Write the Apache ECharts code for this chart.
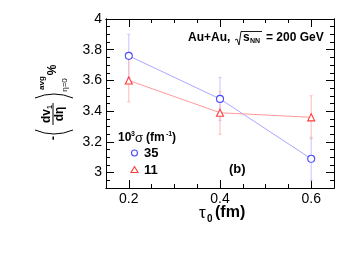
<!DOCTYPE html>
<html><head><meta charset="utf-8">
<script src="https://cdn.jsdelivr.net/npm/echarts@6/dist/echarts.min.js"></script>
<style>html,body{margin:0;padding:0;background:#fff}#c{width:347px;height:260px}</style>
</head><body><div id="c"></div>
<script>
const tau0 = [0.2, 0.4, 0.6];
const sigma35 = [3.76, 3.48, 3.09];
const sigma35Err = [0.14, 0.14, 0.14];
const sigma11 = [3.60, 3.39, 3.36];
const sigma11Err = [0.14, 0.14, 0.14];
const xTickLabels = [0.2, 0.4, 0.6];
const xMinorTicks = [0.15, 0.2, 0.25, 0.3, 0.35, 0.4, 0.45, 0.5, 0.55, 0.6, 0.65];
const yTickLabels = [3, 3.2, 3.4, 3.6, 3.8, 4];
const yMinorTicks = [2.9, 2.95, 3, 3.05, 3.1, 3.15, 3.2, 3.25, 3.3, 3.35, 3.4, 3.45, 3.5, 3.55, 3.6, 3.65, 3.7, 3.75, 3.8, 3.85, 3.9, 3.95, 4];
const legendNames = ['35', '11'];

const FF = '"Liberation Sans", Arial, Helvetica, sans-serif';
const BLUE = '#4b4bff', BLUE_L = '#a8a8ff', BLUE_E = '#c4c4ff';
const RED = '#ff3c3c', RED_L = '#ff9a9a', RED_E = '#ffb8b8';

const chart = echarts.init(document.getElementById('c'), null, {renderer: 'canvas'});

function xAx(pos, ticks, len, labels) {
  return {
    type: 'value', position: pos, min: 0.15, max: 0.65,
    axisLine: {show: true, onZero: false, lineStyle: {color: '#000', width: 1}},
    axisTick: {show: true, inside: true, length: len, customValues: ticks, lineStyle: {color: '#000', width: 1}},
    axisLabel: labels ? {show: true, customValues: xTickLabels, formatter: v => v.toFixed(1), color: '#000', fontSize: 14, fontFamily: FF, margin: 4} : {show: false},
    splitLine: {show: false}
  };
}
function yAx(pos, ticks, len, labels) {
  return {
    type: 'value', position: pos, min: 2.9, max: 4,
    axisLine: {show: true, onZero: false, lineStyle: {color: '#000', width: 1}},
    axisTick: {show: true, inside: true, length: len, customValues: ticks, lineStyle: {color: '#000', width: 1}},
    axisLabel: labels ? {show: true, customValues: yTickLabels, formatter: v => (Math.abs(v - Math.round(v)) < 1e-9 ? String(Math.round(v)) : v.toFixed(1)), color: '#000', fontSize: 14, fontFamily: FF, margin: 4} : {show: false},
    splitLine: {show: false}
  };
}

function errSeries(vals, errs, color) {
  return {
    type: 'custom', xAxisIndex: 0, yAxisIndex: 0, z: 1, silent: true,
    data: tau0.map((x, i) => [x, vals[i] - errs[i], vals[i] + errs[i]]),
    encode: {x: 0, y: [1, 2]},
    renderItem(params, api) {
      const lo = api.coord([api.value(0), api.value(1)]);
      const hi = api.coord([api.value(0), api.value(2)]);
      const st = {stroke: color, lineWidth: 1};
      return {type: 'group', children: [
        {type: 'line', shape: {x1: lo[0], y1: lo[1], x2: hi[0], y2: hi[1]}, style: st},
        {type: 'line', shape: {x1: lo[0] - 1.5, y1: lo[1], x2: lo[0] + 1.5, y2: lo[1]}, style: st},
        {type: 'line', shape: {x1: hi[0] - 1.5, y1: hi[1], x2: hi[0] + 1.5, y2: hi[1]}, style: st}
      ]};
    }
  };
}

function lineSeries(name, vals, sym, color, lcolor) {
  return {
    type: 'line', name: name, xAxisIndex: 0, yAxisIndex: 0, z: 3,
    data: tau0.map((x, i) => [x, vals[i]]),
    symbol: sym, symbolSize: 7, showSymbol: true,
    lineStyle: {color: lcolor, width: 1},
    itemStyle: {color: '#fff', borderColor: color, borderWidth: 1.1},
    emphasis: {disabled: true}, animation: false
  };
}

const T = (text, x, y, font, extra) => ({type: 'text', style: Object.assign({text, x, y, font, fill: '#000', align: 'left', verticalAlign: 'middle'}, extra || {})});

const ylabel = {
  type: 'group', x: 53, y: 138, rotation: Math.PI / 2,
  children: [
    {type: 'text', style: {text: '-', x: 0, y: 0, font: 'bold 13px ' + FF, fill: '#000', align: 'center', verticalAlign: 'middle'}},
    {type: 'bezierCurve', shape: {x1: 8, y1: -18, x2: 8, y2: 20, cpx1: 0, cpy1: 1}, style: {stroke: '#000', lineWidth: 1, fill: null}},
    {type: 'text', style: {text: 'dv', x: 15, y: -6, font: 'bold 12px ' + FF, fill: '#000', align: 'left', verticalAlign: 'middle'}},
    {type: 'text', style: {text: '1', x: 29, y: -3, font: 'bold 7px ' + FF, fill: '#000', align: 'left', verticalAlign: 'middle'}},
    {type: 'line', shape: {x1: 13, y1: 0, x2: 35, y2: 0}, style: {stroke: '#000', lineWidth: 1}},
    {type: 'text', style: {text: 'dη', x: 24, y: 7, font: 'bold 12px ' + FF, fill: '#000', align: 'center', verticalAlign: 'middle'}},
    {type: 'bezierCurve', shape: {x1: 40, y1: -18, x2: 40, y2: 20, cpx1: 48, cpy1: 1}, style: {stroke: '#000', lineWidth: 1, fill: null}},
    {type: 'text', style: {text: 'avg', x: 55, y: -11, font: 'bold 8px ' + FF, fill: '#000', align: 'center', verticalAlign: 'middle'}},
    {type: 'text', style: {text: 'η=0', x: 53, y: 12, font: '8px ' + FF, fill: '#000', align: 'center', verticalAlign: 'middle'}},
    {type: 'text', style: {text: '%', x: 68, y: 0, font: 'bold 12px ' + FF, fill: '#000', align: 'center', verticalAlign: 'middle'}}
  ]
};

const graphics = [
  ylabel,
  // x axis title
  T('τ', 199, 213, '17px ' + FF),
  T('0', 207, 219, 'bold 10px ' + FF),
  T('(fm)', 215, 213, 'bold 16px ' + FF),
  // energy annotation
  T('Au+Au,', 188, 38, 'bold 12px ' + FF),
  {type: 'polyline', shape: {points: [[235, 40], [237, 39], [239, 45], [241, 31.5], [262, 31.5]]}, style: {stroke: '#000', lineWidth: 0.9, fill: null}},
  T('s', 243, 38, 'bold 12px ' + FF),
  T('NN', 250, 41, 'bold 7px ' + FF),
  T('= 200 GeV', 266, 38, 'bold 12px ' + FF),
  // legend header
  T('10', 118, 138, 'bold 12px ' + FF),
  T('3', 131, 134, 'bold 7px ' + FF),
  T('σ', 135, 138, '13px ' + FF),
  T('(fm', 146, 138, 'bold 12px ' + FF),
  T('-1', 166, 134, 'bold 7px ' + FF),
  T(')', 172, 138, 'bold 12px ' + FF),
  // legend entries
  {type: 'circle', shape: {cx: 134.5, cy: 153, r: 3}, style: {stroke: BLUE, fill: '#fff', lineWidth: 1.1}},
  T(legendNames[0], 144, 153, 'bold 13px ' + FF),
  {type: 'polygon', shape: {points: [[134.5, 166.5], [138, 172.5], [131, 172.5]]}, style: {stroke: RED, fill: '#fff', lineWidth: 1.1}},
  T(legendNames[1], 144, 170, 'bold 13px ' + FF),
  // panel label
  T('(b)', 229, 169, 'bold 13px ' + FF)
];

chart.setOption({
  animation: false,
  backgroundColor: '#fff',
  grid: {left: 106, right: 13, top: 19, bottom: 72, containLabel: false},
  xAxis: [
    xAx('bottom', xTickLabels, 8, true),
    xAx('bottom', xMinorTicks, 4, false),
    xAx('top', xTickLabels, 8, false),
    xAx('top', xMinorTicks, 4, false)
  ],
  yAxis: [
    yAx('left', yTickLabels, 8, true),
    yAx('left', yMinorTicks, 4, false),
    yAx('right', yTickLabels, 8, false),
    yAx('right', yMinorTicks, 4, false)
  ],
  series: [
    errSeries(sigma35, sigma35Err, BLUE_E),
    errSeries(sigma11, sigma11Err, RED_E),
    lineSeries(legendNames[0], sigma35, 'circle', BLUE, BLUE_L),
    lineSeries(legendNames[1], sigma11, 'triangle', RED, RED_L)
  ],
  graphic: graphics
});
</script></body></html>
